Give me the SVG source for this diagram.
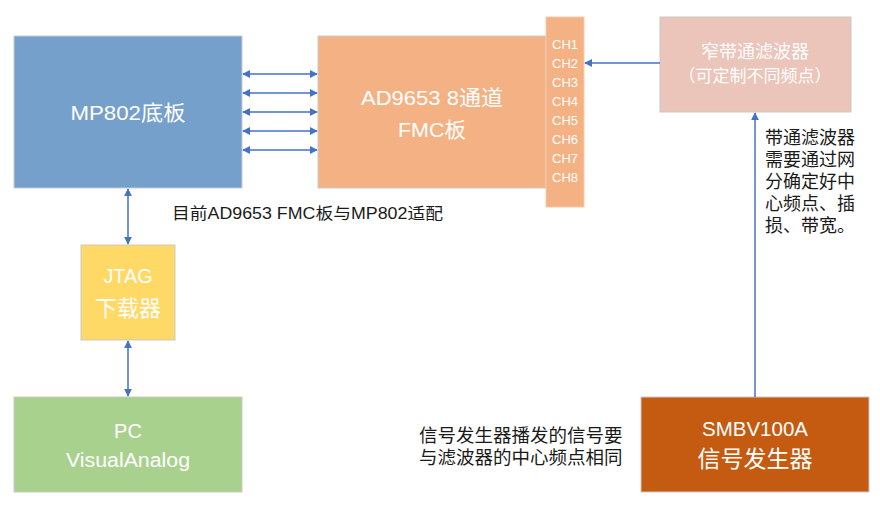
<svg xmlns="http://www.w3.org/2000/svg" width="880" height="515" viewBox="0 0 880 515">
<defs>
<marker id="ah" viewBox="0 0 10 10" refX="9" refY="5" markerWidth="8" markerHeight="8" markerUnits="userSpaceOnUse" orient="auto-start-reverse">
<path d="M0,0 L10,5 L0,10 z" fill="#4472C4"/>
</marker>
<style>
.box{stroke:#C9C9C9;stroke-width:1}
.wt{fill:#FFFFFF;font-family:"Liberation Sans","Noto Sans CJK SC",sans-serif;text-anchor:middle}
.bt{fill:#1a1a1a;font-family:"Liberation Sans","Noto Sans CJK SC",sans-serif}
.c{stroke:#4472C4;stroke-width:1.5;fill:none}
.ch{fill:#FFFFFF;font-family:"Liberation Sans","Noto Sans CJK SC",sans-serif;font-size:13px}
</style>
</defs>
<rect width="880" height="515" fill="#FFFFFF"/>
<g id="mp802">
<rect class="box" x="14" y="36" width="228" height="152" fill="#75A0CC"/>
<text class="wt" x="128" y="120" font-size="21" textLength="115" lengthAdjust="spacingAndGlyphs">MP802底板</text>
</g>
<g id="ad9653">
<rect class="box" x="318" y="36" width="228" height="152" fill="#F4B183" stroke="#F4B183"/>
<text class="wt" x="432" y="105" font-size="21" textLength="142" lengthAdjust="spacingAndGlyphs">AD9653 8通道</text>
<text class="wt" x="432" y="137" font-size="21" textLength="68" lengthAdjust="spacingAndGlyphs">FMC板</text>
</g>
<g id="channels">
<rect x="546" y="17" width="38" height="190" fill="#F4B183" stroke="#F8CBAD" stroke-width="1"/>
<text class="ch" x="552" y="49">CH1</text>
<text class="ch" x="552" y="68">CH2</text>
<text class="ch" x="552" y="87">CH3</text>
<text class="ch" x="552" y="106">CH4</text>
<text class="ch" x="552" y="125">CH5</text>
<text class="ch" x="552" y="144">CH6</text>
<text class="ch" x="552" y="163">CH7</text>
<text class="ch" x="552" y="182">CH8</text>
</g>
<g id="filter">
<rect class="box" x="660" y="17" width="191" height="95" fill="#EBC4BA"/>
<text class="wt" x="755" y="58" font-size="18">窄带通滤波器</text>
<text class="wt" x="755" y="82" font-size="17">（可定制不同频点）</text>
</g>
<g id="jtag">
<rect class="box" x="81" y="245" width="94" height="95" fill="#FFD966"/>
<text class="wt" x="128" y="283" font-size="21" textLength="49" lengthAdjust="spacingAndGlyphs">JTAG</text>
<text class="wt" x="128" y="316" font-size="22">下载器</text>
</g>
<g id="pc">
<rect class="box" x="14" y="397" width="228" height="95" fill="#A9D18E"/>
<text class="wt" x="128" y="438" font-size="20">PC</text>
<text class="wt" x="128" y="467" font-size="20" textLength="124" lengthAdjust="spacingAndGlyphs">VisualAnalog</text>
</g>
<g id="smbv">
<rect class="box" x="641" y="397" width="228" height="95" fill="#C55A11"/>
<text class="wt" x="755" y="436" font-size="21" textLength="106" lengthAdjust="spacingAndGlyphs">SMBV100A</text>
<text class="wt" x="755" y="467" font-size="23">信号发生器</text>
</g>
<g id="notes">
<text class="bt" x="172" y="219" font-size="16" textLength="271" lengthAdjust="spacingAndGlyphs">目前AD9653 FMC板与MP802适配</text>
<text class="bt" x="765" y="144" font-size="18">带通滤波器</text>
<text class="bt" x="765" y="166" font-size="18">需要通过网</text>
<text class="bt" x="765" y="188" font-size="18">分确定好中</text>
<text class="bt" x="765" y="210" font-size="18">心频点、插</text>
<text class="bt" x="765" y="232" font-size="18">损、带宽。</text>
<text class="bt" x="419" y="442" font-size="18.5">信号发生器播发的信号要</text>
<text class="bt" x="419" y="464" font-size="18.5">与滤波器的中心频点相同</text>
</g>
<g id="connectors">
<line class="c" x1="243" y1="74" x2="317" y2="74" marker-start="url(#ah)" marker-end="url(#ah)"/>
<line class="c" x1="243" y1="93" x2="317" y2="93" marker-start="url(#ah)" marker-end="url(#ah)"/>
<line class="c" x1="243" y1="112" x2="317" y2="112" marker-start="url(#ah)" marker-end="url(#ah)"/>
<line class="c" x1="243" y1="131" x2="317" y2="131" marker-start="url(#ah)" marker-end="url(#ah)"/>
<line class="c" x1="243" y1="150" x2="317" y2="150" marker-start="url(#ah)" marker-end="url(#ah)"/>
<line class="c" x1="128" y1="189" x2="128" y2="244" marker-start="url(#ah)" marker-end="url(#ah)"/>
<line class="c" x1="128" y1="341" x2="128" y2="396" marker-start="url(#ah)" marker-end="url(#ah)"/>
<line class="c" x1="660" y1="63" x2="585" y2="63" marker-end="url(#ah)"/>
<line class="c" x1="755" y1="397" x2="755" y2="113" marker-end="url(#ah)"/>
</g>
</svg>
